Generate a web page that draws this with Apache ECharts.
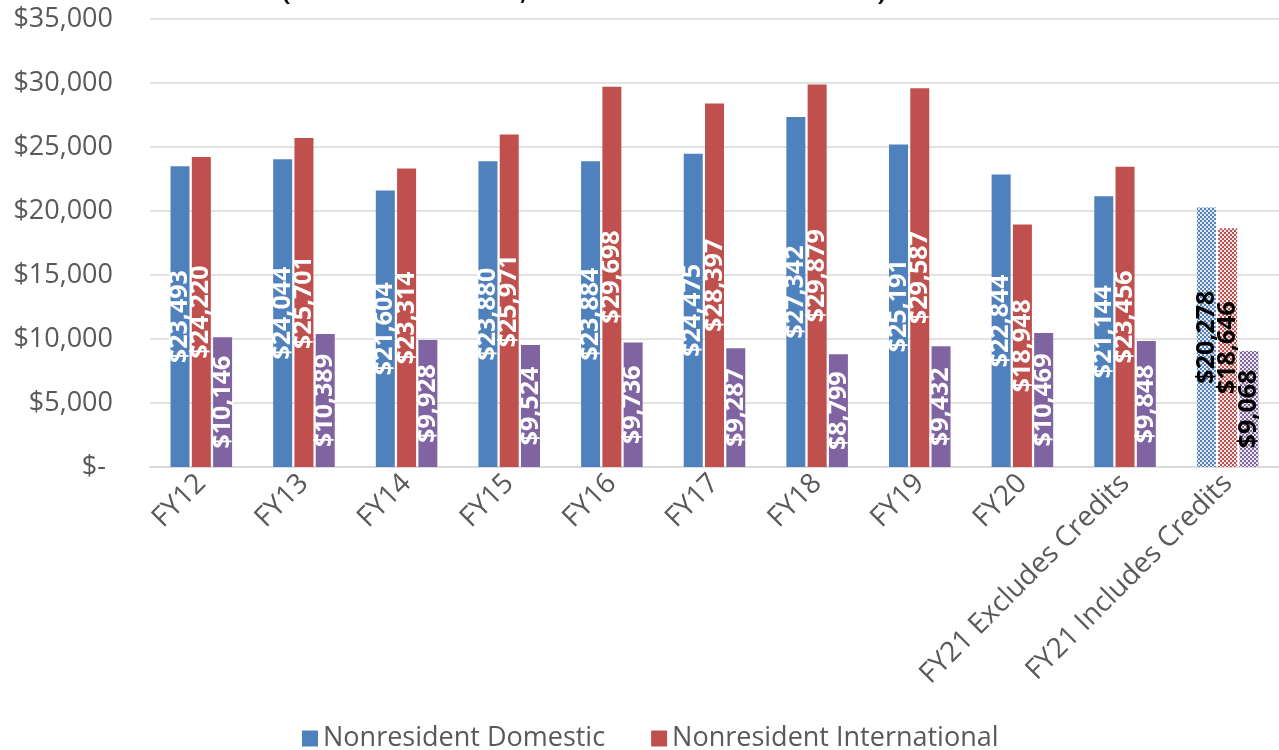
<!DOCTYPE html>
<html>
<head>
<meta charset="utf-8">
<script src="https://cdn.jsdelivr.net/npm/echarts@6/dist/echarts.min.js"></script>
<style>
  html, body { margin: 0; padding: 0; background: #fff; }
  #main { width: 1279px; height: 750px; }
</style>
</head>
<body>
<div id="main"></div>
<script>
var categories = ['FY12', 'FY13', 'FY14', 'FY15', 'FY16', 'FY17', 'FY18', 'FY19', 'FY20',
    'FY21 Excludes Credits', 'FY21 Includes Credits'];
var domestic = [23493, 24044, 21604, 23880, 23884, 24475, 27342, 25191, 22844, 21144, 20278];
var international = [24220, 25701, 23314, 25971, 29698, 28397, 29879, 29587, 18948, 23456, 18646];
var resident = [10146, 10389, 9928, 9524, 9736, 9287, 8799, 9432, 10469, 9848, 9068];
var seriesNames = ['Nonresident Domestic', 'Nonresident International', 'Resident'];
var colors = ['#4F81BD', '#C0504D', '#8064A2'];

function money(v) {
    if (v === 0) return '$- ';
    return '$' + v.toString().replace(/\B(?=(\d{3})+(?!\d))/g, ',');
}

// small checkerboard for the "includes credits" bars
function checker(col) {
    var c = document.createElement('canvas');
    c.width = 4; c.height = 4;
    var ctx = c.getContext('2d');
    ctx.fillStyle = '#e8e8e8';
    ctx.fillRect(0, 0, 4, 4);
    ctx.fillStyle = col;
    ctx.fillRect(0, 0, 2, 2);
    ctx.fillRect(2, 2, 2, 2);
    return { image: c, repeat: 'repeat' };
}

function buildData(vals, idx) {
    return vals.map(function (v, i) {
        if (i === vals.length - 1) {
            return {
                value: v,
                itemStyle: { color: checker(colors[idx]) },
                label: { color: '#000' }
            };
        }
        return v;
    });
}

function makeSeries(name, vals, idx) {
    return {
        name: name,
        type: 'bar',
        barWidth: 19,
        barGap: '12%',
        itemStyle: { color: colors[idx] },
        label: {
            show: true,
            position: 'inside',
            rotate: 90,
            color: '#fff',
            fontFamily: 'Open Sans',
            fontWeight: 'bold',
            fontSize: 25,
            textBorderWidth: 0,
            formatter: function (p) { return money(p.value); }
        },
        data: buildData(vals, idx)
    };
}

var myChart = echarts.init(document.getElementById('main'));
var option = {
    animation: false,
    color: colors,
    graphic: [{
        type: 'text',
        left: 280,
        top: -31,
        style: {
            text: '(Excludes HSE, Transfer & Relocate)',
            fontSize: 37,
            fontFamily: 'Open Sans',
            fill: '#000'
        }
    }],
    grid: { left: 150, right: 0, top: 19, bottom: 283 },
    legend: {
        data: seriesNames,
        left: 297,
        top: 720,
        width: 780,
        itemWidth: 16,
        itemHeight: 16,
        itemGap: 46,
        icon: 'rect',
        textStyle: { fontSize: 27, color: '#595959', fontFamily: 'Open Sans' }
    },
    xAxis: {
        type: 'category',
        data: categories,
        axisLine: { lineStyle: { color: '#d9d9d9', width: 1.5 } },
        axisTick: { show: false },
        axisLabel: {
            rotate: 45,
            interval: 0,
            fontSize: 28,
            color: '#595959',
            fontFamily: 'Open Sans',
            margin: 12
        }
    },
    yAxis: {
        type: 'value',
        min: 0,
        max: 35000,
        interval: 5000,
        axisLine: { show: false },
        axisTick: { show: false },
        splitLine: { lineStyle: { color: '#d9d9d9', width: 1.5 } },
        axisLabel: {
            fontSize: 27,
            color: '#595959',
            fontFamily: 'Open Sans',
            margin: 37,
            formatter: money
        }
    },
    series: [
        makeSeries(seriesNames[0], domestic, 0),
        makeSeries(seriesNames[1], international, 1),
        makeSeries(seriesNames[2], resident, 2)
    ]
};
myChart.setOption(option);
</script>
</body>
</html>
